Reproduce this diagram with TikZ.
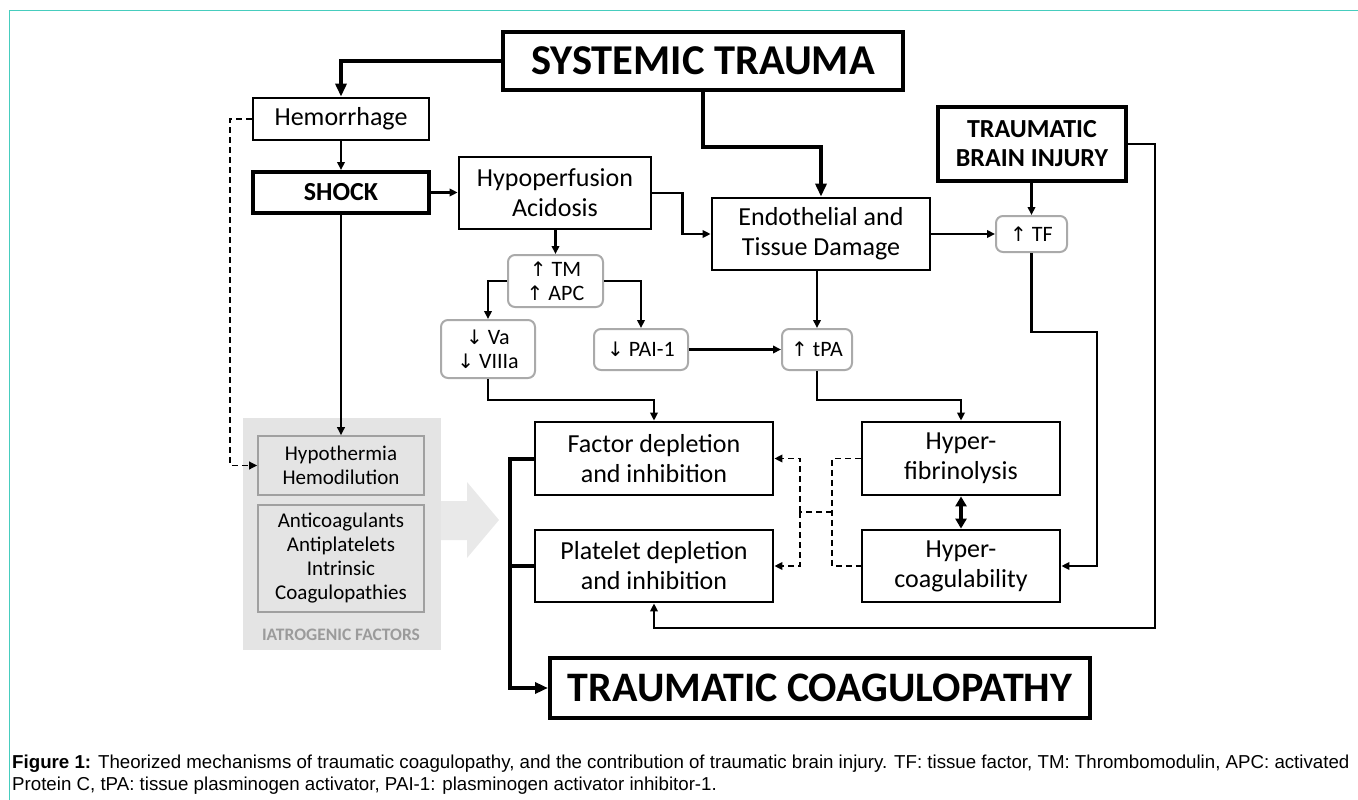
\documentclass[tikz,border=0pt]{standalone}
\usepackage{fontspec}
\setmainfont{Carlito}
\newfontfamily\capfont{Liberation Sans}
\newfontfamily\symf{DejaVu Sans}
\usetikzlibrary{arrows.meta,calc}
\definecolor{framecol}{RGB}{70,205,190}
\definecolor{panelgray}{RGB}{228,228,228}
\definecolor{arrowgray}{RGB}{233,233,233}
\definecolor{innerborder}{RGB}{160,160,160}
\definecolor{roundborder}{RGB}{170,170,170}
\definecolor{iatrocol}{RGB}{155,155,155}
\newcommand{\uarr}{{\symf\fontsize{20}{20}\selectfont ↑}}
\newcommand{\darr}{{\symf\fontsize{20}{20}\selectfont ↓}}
\tikzset{
  boxtext/.style={align=center,inner sep=0pt,font=\fontsize{26}{30}\selectfont},
  thickbox/.style={boxtext,draw,line width=4pt},
  midbox/.style={boxtext,draw,line width=2.8pt},
  roundbox/.style={align=center,inner sep=0pt,draw=roundborder,line width=2pt,rounded corners=7pt,font=\fontsize{22}{24}\selectfont},
  innerbox/.style={align=center,inner sep=0pt,draw=innerborder,line width=1.6pt,font=\fontsize{21}{24}\selectfont},
  conn/.style={line width=2.2pt,-{Triangle[length=8pt,width=7.5pt]}},
  thickconn/.style={line width=4pt,-{Triangle[length=13pt,width=11pt]}},
  thickline/.style={line width=4pt},
  dashline/.style={line width=1.9pt,dash pattern=on 6pt off 4pt},
  dashconn/.style={dashline,-{Triangle[length=8pt,width=7.5pt]}},
}
\begin{document}
\begin{tikzpicture}[x=1pt,y=-1pt]
\useasboundingbox (0,0) rectangle (1358,800);
% frame
\draw[framecol,line width=1.6pt] (9.5,800) -- (9.5,10.5) -- (1358,10.5);

% gray panel and big arrow
\fill[panelgray] (243,418) rectangle (441,650);
\fill[arrowgray] (441,501) -- (467,501) -- (467,482) -- (499,520) -- (467,558) -- (467,540) -- (441,540) -- cycle;
\node[innerbox,minimum width=166pt,minimum height=59pt] (hyp) at (341,465.5) {Hypothermia\\Hemodilution};
\node[innerbox,minimum width=166pt,minimum height=107pt] (anti) at (341,558.5) {Anticoagulants\\Antiplatelets\\Intrinsic\\Coagulopathies};
\node[inner sep=0pt,text=iatrocol,font=\bfseries\fontsize{17.5}{18}\selectfont] (iatro) at (341,635) {IATROGENIC FACTORS};

% main boxes
\node[thickbox,minimum width=400pt,minimum height=58pt,font=\bfseries\fontsize{42.5}{44}\selectfont] (st) at (703,61) {SYSTEMIC TRAUMA};
\node[midbox,minimum width=176pt,minimum height=42pt] (hem) at (341,119) {Hemorrhage};
\node[thickbox,minimum width=176pt,minimum height=41pt,font=\bfseries\fontsize{26}{30}\selectfont] (shock) at (341,192.5) {SHOCK};
\node[midbox,minimum width=192pt,minimum height=72pt] (hypo) at (555,193) {Hypoperfusion\\Acidosis};
\node[midbox,minimum width=218pt,minimum height=72pt] (endo) at (821,234) {Endothelial and\\Tissue Damage};
\node[thickbox,minimum width=188pt,minimum height=74pt,font=\bfseries\fontsize{26}{29}\selectfont] (tbi) at (1032,144) {TRAUMATIC\\BRAIN INJURY};
\node[roundbox,minimum width=71pt,minimum height=36pt] (tf) at (1031.5,234) {\uarr\ TF};
\node[roundbox,minimum width=95pt,minimum height=52pt] (tm) at (555.5,281) {\uarr\ TM\\\uarr\ APC};
\node[roundbox,minimum width=94pt,minimum height=58pt] (va) at (488,349) {\darr\ Va\\\darr\ VIIIa};
\node[roundbox,minimum width=94pt,minimum height=41pt] (pai) at (641,349.5) {\darr\ PAI-1};
\node[roundbox,minimum width=70pt,minimum height=41pt] (tpa) at (817,349.5) {\uarr\ tPA};
\node[midbox,minimum width=238pt,minimum height=73pt] (fac) at (654,458.5) {Factor depletion\\and inhibition};
\node[midbox,minimum width=238pt,minimum height=72pt] (plt) at (654,566) {Platelet depletion\\and inhibition};
\node[midbox,minimum width=198pt,minimum height=73pt] (hfib) at (961,458.5) {Hyper-\\fibrinolysis};
\node[midbox,minimum width=198pt,minimum height=72pt] (hcoag) at (961,566) {Hyper-\\coagulability};
\node[thickbox,minimum width=540pt,minimum height=60pt,font=\bfseries\fontsize{42}{44}\selectfont] (tc) at (820,688) {TRAUMATIC COAGULOPATHY};

% helper coordinates
\coordinate (row) at (0,400);
\coordinate (dl) at (800,0);
\coordinate (dr) at (832,0);
\coordinate (dm) at (0,512);
\coordinate (tl) at (510,0);
\coordinate (tfjog) at (1097,332);
\coordinate (tbicorner) at (1155,628);
\coordinate (hemdash) at (230,0);

% connectors
\draw[thickconn] (st.west) -| (hem.north);
\draw[conn] (hem.south) -- (shock.north);
\draw[conn] (shock.east) -- (shock.east -| hypo.west);
\draw[thickconn] (st.south) -- ++(0,55) -| (endo.north);
\draw[conn] (hypo.east) -- ++(30,0) |- (endo.west);
\draw[conn] (hypo.south -| tm.north) -- (tm.north);
\draw[conn] (tm.west) -| (va.north);
\draw[conn] (tm.east) -| (pai.north);
\draw[conn] (pai.east) -- (pai.east -| tpa.west);
\draw[conn] (endo.south -| tpa.north) -- (tpa.north);
\draw[conn] (va.south) -- (va.south |- row) -| (fac.north);
\draw[conn] (tpa.south) -- (tpa.south |- row) -| (hfib.north);
\draw[conn] (endo.east |- tf.west) -- (tf.west);
\draw[conn] (tbi.south -| tf.north) -- (tf.north);
\draw[conn] (tf.south) |- (tfjog) |- (hcoag.east);
\draw[conn] (tbi.east) -| (tbicorner) -| (plt.south);
\draw[thickline,{Triangle[length=10pt,width=11pt]}-{Triangle[length=10pt,width=11pt]}] (hfib.south) -- (hcoag.north);
% dashed
\draw[dashline] (hfib.west) -- (hfib.west -| dr) -- (hcoag.west -| dr) -- (hcoag.west);
\draw[dashline] (dr |- dm) -- (dl |- dm);
\draw[dashconn] (dl |- dm) |- (fac.east);
\draw[dashconn] (dl |- dm) |- (plt.east);
\draw[dashconn] (hem.west) -- (hem.west -| hemdash) |- (hyp.west);
% left thick
\draw[thickline] (plt.west) -- (plt.west -| tl);
\draw[thickconn] (fac.west) -- (fac.west -| tl) |- (tc.west);
\draw[conn] (shock.south) -- (hyp.north);

% caption
\node[anchor=north west,inner sep=0pt,align=left,font=\capfont\fontsize{18.7}{21.5}\selectfont] (cap) at (12,755) {\textbf{Figure 1:} Theorized mechanisms of traumatic coagulopathy, and the contribution of traumatic brain injury. TF: tissue factor, TM: Thrombomodulin, APC: activated\\Protein C, tPA: tissue plasminogen activator, PAI-1: plasminogen activator inhibitor-1.};
\end{tikzpicture}
\end{document}
